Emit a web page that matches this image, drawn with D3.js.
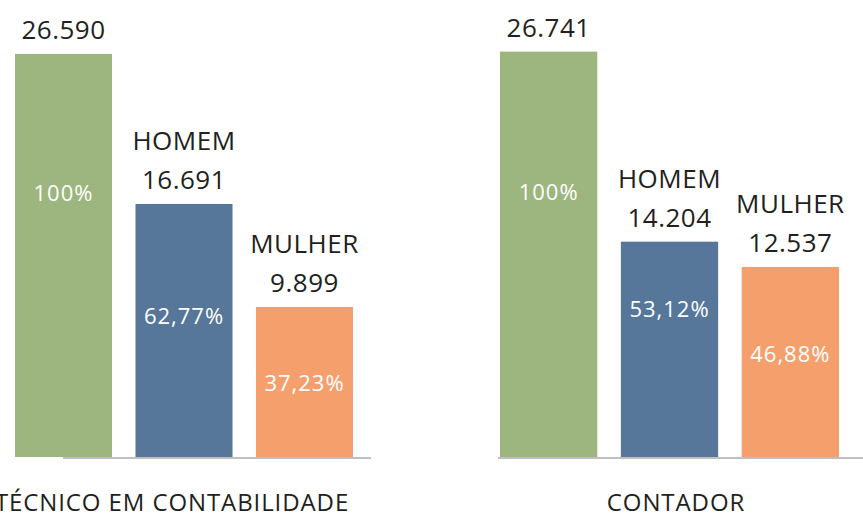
<!DOCTYPE html>
<html>
<head>
<meta charset="utf-8">
<script src="https://cdn.jsdelivr.net/npm/d3@7/dist/d3.min.js"></script>
<style>
  body { margin: 0; background: #fff; }
  svg { display: block; font-family: "Open Sans", sans-serif; }
  .val { fill: #231f20; font-size: 26px; text-anchor: middle; letter-spacing: 0.5px; }
  .pct { fill: #fff; font-size: 22px; text-anchor: middle; letter-spacing: 1px; }
  .cat { fill: #231f20; font-size: 24px; text-anchor: middle; letter-spacing: 0.9px; }
</style>
</head>
<body>
<svg width="863" height="517"></svg>
<script>
// data
var categories = ["TÉCNICO EM CONTABILIDADE", "CONTADOR"];
var groups = ["TOTAL", "HOMEM", "MULHER"];
var total = [26590, 26741];
var homem = [16691, 14204];
var mulher = [9899, 12537];

var colors = { TOTAL: "#9db57e", HOMEM: "#56779a", MULHER: "#f59f6d" };

// layout of each panel (pixels)
var panelRange = [[15, 353], [500, 839]];
var lineRange = [[63, 371], [498, 863]];
var catX = [172, 676];
// where the percent label sits inside a bar (fraction of bar height from top)
var pctPos = [[0.366, 0.474, 0.563], [0.367, 0.349, 0.5]];

var br = d3.formatLocale({ decimal: ",", thousands: ".", grouping: [3], currency: ["R$", ""] });
var fmtNum = br.format(",d");
var fmtPct = br.format(".2f");

var svg = d3.select("svg");
var baseY = 457;

var y = d3.scaleLinear()
  .domain([0, 26650])
  .range([baseY, 53]);

categories.forEach(function (cat, i) {
  var rows = [
    { g: "TOTAL", v: total[i] },
    { g: "HOMEM", v: homem[i] },
    { g: "MULHER", v: mulher[i] }
  ];

  var x = d3.scaleBand()
    .domain(groups)
    .range(panelRange[i])
    .paddingInner(0.195);

  var panel = svg.append("g").attr("class", "panel");

  // baseline
  panel.append("line")
    .attr("x1", lineRange[i][0]).attr("x2", lineRange[i][1])
    .attr("y1", baseY + 1).attr("y2", baseY + 1)
    .attr("stroke", "#bfbfbf")
    .attr("stroke-width", 2);

  panel.selectAll(".bar")
    .data(rows)
    .enter().append("rect")
    .attr("class", "bar")
    .attr("x", function (d) { return x(d.g); })
    .attr("y", function (d) { return y(d.v); })
    .attr("width", x.bandwidth())
    .attr("height", function (d) { return baseY - y(d.v); })
    .attr("fill", function (d) { return colors[d.g]; });

  // value on top
  panel.selectAll(".val")
    .data(rows)
    .enter().append("text")
    .attr("class", "val")
    .attr("x", function (d) { return x(d.g) + x.bandwidth() / 2; })
    .attr("y", function (d) { return y(d.v) - 15; })
    .text(function (d) { return fmtNum(d.v); });

  // group name above value (not for total)
  panel.selectAll(".grp")
    .data(rows.filter(function (d) { return d.g !== "TOTAL"; }))
    .enter().append("text")
    .attr("class", "val grp")
    .attr("x", function (d) { return x(d.g) + x.bandwidth() / 2; })
    .attr("y", function (d) { return y(d.v) - 15 - 39; })
    .text(function (d) { return d.g; });

  // percent inside bar
  panel.selectAll(".pct")
    .data(rows)
    .enter().append("text")
    .attr("class", "pct")
    .attr("x", function (d) { return x(d.g) + x.bandwidth() / 2; })
    .attr("y", function (d, j) { return y(d.v) + (baseY - y(d.v)) * pctPos[i][j]; })
    .text(function (d) {
      var p = d.v / total[i] * 100;
      return d.g === "TOTAL" ? "100%" : fmtPct(p) + "%";
    });

  panel.append("text")
    .attr("class", "cat")
    .attr("x", catX[i])
    .attr("y", 511)
    .text(cat);
});
</script>
</body>
</html>
